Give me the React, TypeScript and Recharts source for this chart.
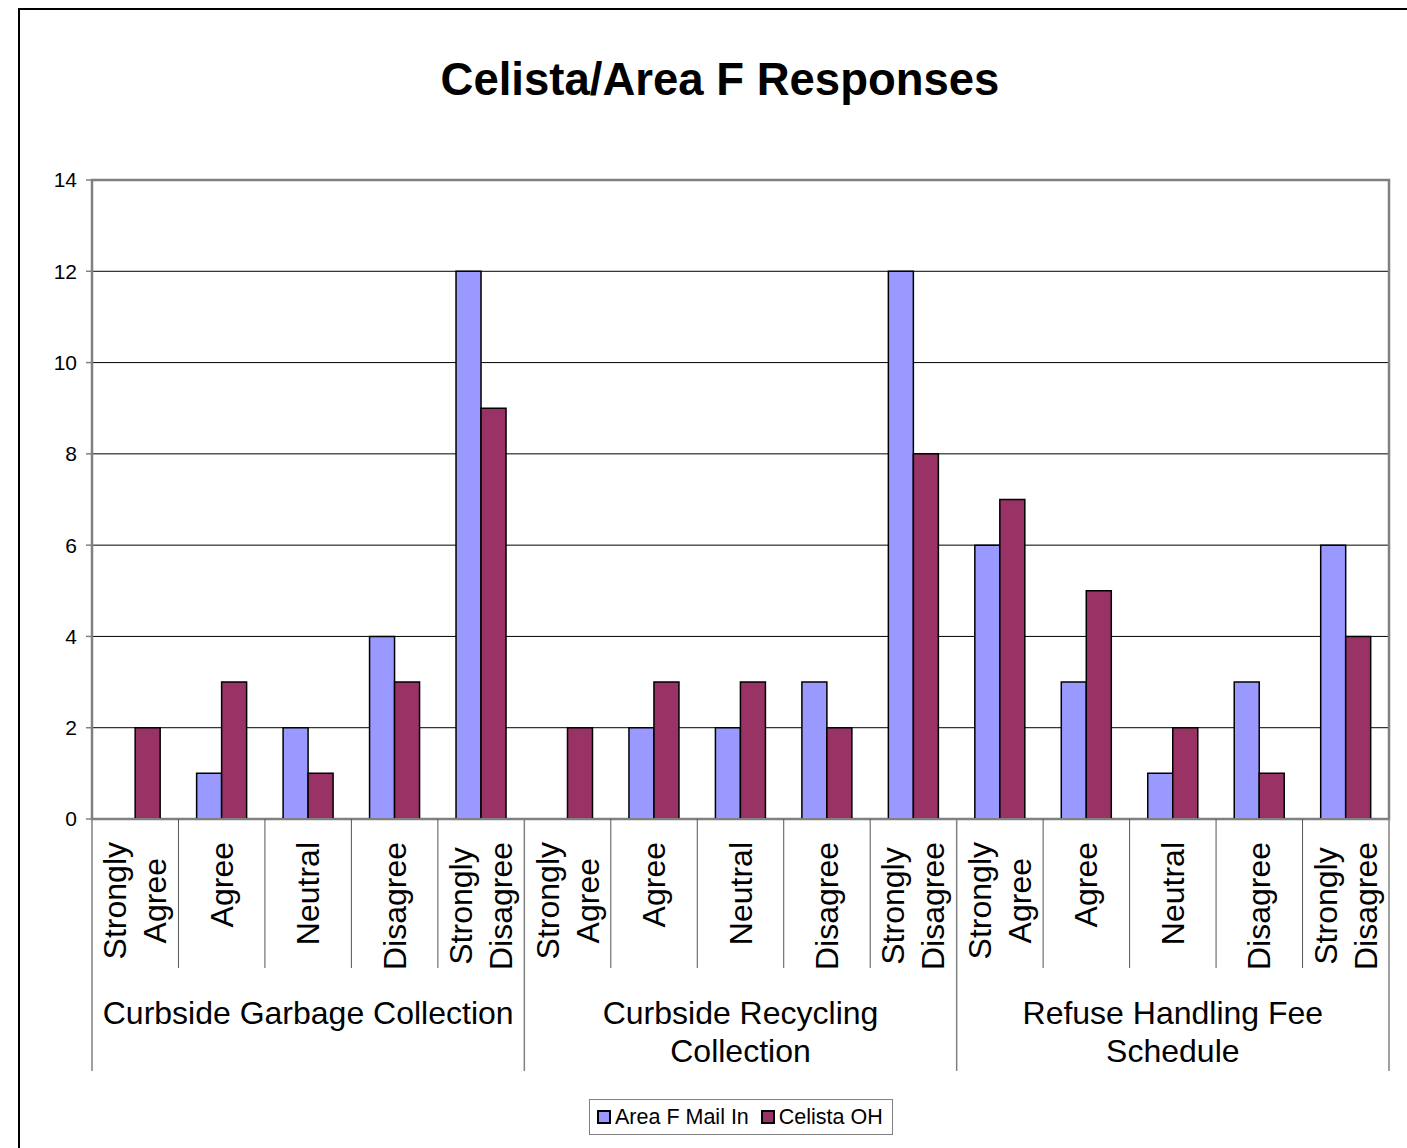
import React from "react";
import {
  BarChart,
  Bar,
  XAxis,
  YAxis,
  CartesianGrid,
  Legend,
  ReferenceArea,
} from "recharts";

// chart values
const groupLabels = [
  ["Curbside Garbage Collection"],
  ["Curbside Recycling", "Collection"],
  ["Refuse Handling Fee", "Schedule"],
];
const responses = [
  "Strongly Agree",
  "Agree",
  "Neutral",
  "Disagree",
  "Strongly Disagree",
];
const areaFMailIn = [0, 1, 2, 4, 12, 0, 2, 2, 3, 12, 6, 3, 1, 3, 6];
const celistaOH = [2, 3, 1, 3, 9, 2, 3, 3, 2, 8, 7, 5, 2, 1, 4];
const yTicks = [0, 2, 4, 6, 8, 10, 12, 14];

const FONT = "Arial, 'Liberation Sans', sans-serif";
const W = 1407;
const H = 1148;
const PLOT_LEFT = 92;
const PLOT_RIGHT = 18;

const data = groupLabels.flatMap((g, gi) =>
  responses.map((r, ri) => {
    const i = gi * responses.length + ri;
    return {
      id: `${gi}-${ri}`,
      response: r,
      group: gi,
      "Area F Mail In": areaFMailIn[i],
      "Celista OH": celistaOH[i],
    };
  })
);

let measureCtx: CanvasRenderingContext2D | null = null;
const measure = (text: string, size: number) => {
  if (!measureCtx) {
    measureCtx = document.createElement("canvas").getContext("2d");
  }
  if (!measureCtx) return text.length * size * 0.5;
  measureCtx.font = `${size}px ${FONT}`;
  return measureCtx.measureText(text).width;
};

const CAT_SIZE = 32;
const GROUP_SIZE = 32;

const CategoryTick = (props: any) => {
  const { x, y, index } = props;
  const band = (W - PLOT_LEFT - PLOT_RIGHT) / data.length;
  const row = data[index];
  if (!row) return null;
  const lines = row.response.split(" ");
  const widest = Math.max(...lines.map((l) => measure(l, CAT_SIZE)));
  const lineGap = 40;
  const top = y + 23;
  const ri = index % responses.length;
  const left = x - band / 2;
  const right = x + band / 2;

  return (
    <g>
      <line
        x1={left}
        x2={left}
        y1={y}
        y2={ri === 0 ? y + 252 : y + 149}
        stroke={ri === 0 ? "#808080" : "#555"}
        strokeWidth={ri === 0 ? 1.5 : 1}
      />
      {index === data.length - 1 && (
        <line
          x1={right}
          x2={right}
          y1={y}
          y2={y + 252}
          stroke="#808080"
          strokeWidth={1.5}
        />
      )}
      <g transform={`translate(${x},${top}) rotate(-90)`}>
        {lines.map((l, li) => (
          <text
            key={li}
            x={lines.length > 1 ? -widest / 2 : 0}
            y={(li - (lines.length - 1) / 2) * lineGap}
            textAnchor={lines.length > 1 ? "middle" : "end"}
            dominantBaseline="central"
            fontSize={CAT_SIZE}
            fontFamily={FONT}
            fill="#000"
          >
            {l}
          </text>
        ))}
      </g>
      {ri === 2 &&
        groupLabels[row.group].map((l, li) => (
          <text
            key={`g${li}`}
            x={x}
            y={y + 205 + li * 38}
            textAnchor="middle"
            fontSize={GROUP_SIZE}
            fontFamily={FONT}
            fill="#000"
          >
            {l}
          </text>
        ))}
    </g>
  );
};

const LegendContent = (props: any) => {
  const { payload = [] } = props;
  return (
    <div
      style={{
        display: "inline-flex",
        alignItems: "center",
        border: "1.5px solid #808080",
        background: "#fff",
        padding: "6px 9px 6px 7px",
        fontFamily: FONT,
        fontSize: 21.5,
        lineHeight: "22px",
        color: "#000",
        whiteSpace: "nowrap",
      }}
    >
      {payload.map((p: any, i: number) => (
        <span
          key={i}
          style={{
            display: "inline-flex",
            alignItems: "center",
            marginLeft: i === 0 ? 0 : 12,
          }}
        >
          <span
            style={{
              width: 10,
              height: 10,
              border: "2px solid #000",
              background: p.color,
              marginRight: 4,
              display: "inline-block",
            }}
          />
          {p.value}
        </span>
      ))}
    </div>
  );
};

export default function App() {
  return (
    <div
      style={{
        position: "absolute",
        left: 0,
        top: 0,
        width: W,
        height: H,
        overflow: "hidden",
        background: "#fff",
      }}
    >
      <div
        style={{
          position: "absolute",
          left: 18,
          top: 8,
          width: 1420,
          height: 1200,
          border: "2px solid #000",
          boxSizing: "border-box",
        }}
      />
      <div
        style={{
          position: "absolute",
          left: 18,
          width: 1404,
          top: 53,
          textAlign: "center",
          fontFamily: FONT,
          fontWeight: "bold",
          fontSize: 45.5,
          lineHeight: "54px",
          color: "#000",
        }}
      >
        Celista/Area F Responses
      </div>
      <div style={{ position: "absolute", left: 0, top: 0 }}>
        <BarChart
          width={W}
          height={H}
          data={data}
          margin={{ top: 180, right: PLOT_RIGHT, bottom: 69, left: 0 }}
          barCategoryGap="21%"
          barGap={0}
        >
          <CartesianGrid
            vertical={false}
            stroke="#000"
            strokeWidth={1}
          />
          <XAxis
            dataKey="id"
            height={260}
            interval={0}
            tickSize={0}
            tickMargin={0}
            tick={<CategoryTick />}
            axisLine={{ stroke: "#808080", strokeWidth: 2 }}
          />
          <YAxis
            width={92}
            domain={[0, 14]}
            ticks={yTicks}
            interval={0}
            tickSize={6}
            tickMargin={9}
            axisLine={{ stroke: "#808080", strokeWidth: 2 }}
            tickLine={{ stroke: "#808080", strokeWidth: 1.5 }}
            tick={{ fill: "#000", fontSize: 21, fontFamily: FONT }}
          />
          <ReferenceArea
            y1={0}
            y2={14}
            fill="none"
            stroke="#808080"
            strokeWidth={2.5}
            ifOverflow="visible"
          />
          <Bar
            dataKey="Area F Mail In"
            fill="#9999FF"
            stroke="#000"
            strokeWidth={1.5}
            isAnimationActive={false}
          />
          <Bar
            dataKey="Celista OH"
            fill="#993366"
            stroke="#000"
            strokeWidth={1.5}
            isAnimationActive={false}
          />
          <Legend
            layout="horizontal"
            align="center"
            verticalAlign="middle"
            content={<LegendContent />}
            wrapperStyle={{ left: 589, top: 1099, width: "auto" }}
          />
        </BarChart>
      </div>
    </div>
  );
}
